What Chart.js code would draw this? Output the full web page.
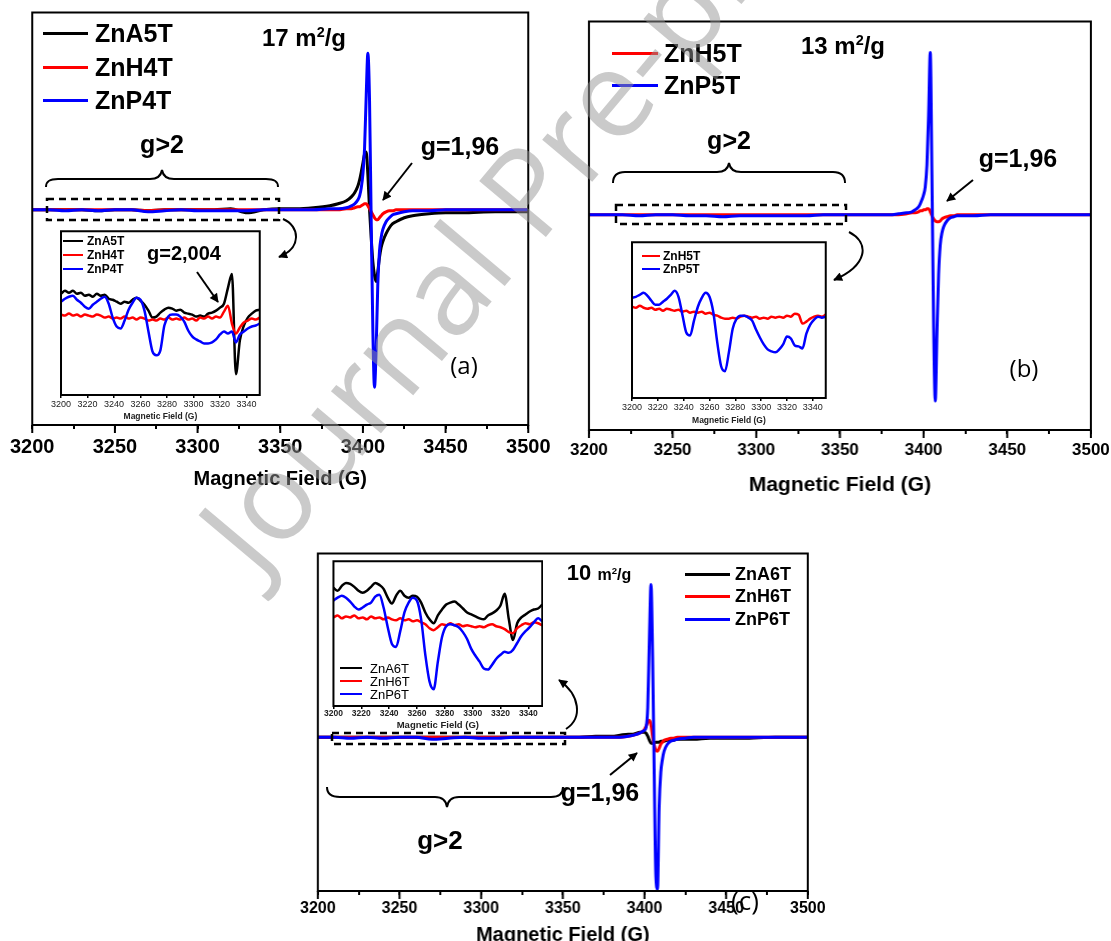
<!DOCTYPE html>
<html>
<head>
<meta charset="utf-8">
<script src="https://cdn.jsdelivr.net/npm/chart.js@4.4.1/dist/chart.umd.min.js"></script>
<style>
  html, body { margin: 0; padding: 0; background: #fff; }
  body { position: relative; width: 1111px; height: 941px; overflow: hidden; font-family: "Liberation Sans", Arial, sans-serif; color: #000; }
  .wrap { position: absolute; z-index: 1; }
  .wrap.inset { z-index: 2; }
  .t { position: absolute; white-space: nowrap; line-height: 1; transform: translate(-50%, -50%); font-weight: bold; z-index: 5; }
  .t.left { transform: translate(0, -50%); }
  .t.reg { font-weight: normal; font-family: "Open Sans", "Liberation Sans", sans-serif; }
  .t sup { font-size: 0.6em; vertical-align: baseline; position: relative; top: -0.6em; }
  .ln { position: absolute; height: 3px; margin-top: -1.5px; z-index: 5; }
  .ln.thin { height: 2.5px; margin-top: -1.25px; }
  svg.over { position: absolute; left: 0; top: 0; z-index: 4; pointer-events: none; }
  svg.wm { z-index: 6; }
</style>
</head>
<body>

<div class="wrap" id="chartA-wrap"><canvas id="chartA"></canvas></div>
<div class="wrap" id="chartB-wrap"><canvas id="chartB"></canvas></div>
<div class="wrap" id="chartC-wrap"><canvas id="chartC"></canvas></div>
<div class="wrap inset" id="insetA-wrap"><canvas id="insetA"></canvas></div>
<div class="wrap inset" id="insetB-wrap"><canvas id="insetB"></canvas></div>
<div class="wrap inset" id="insetC-wrap"><canvas id="insetC"></canvas></div>

<!-- braces, dashed boxes, arrows -->
<svg class="over" width="1111" height="941">
  <defs>
    <marker id="ah" viewBox="0 0 10 10" refX="9" refY="5" markerWidth="11" markerHeight="9" orient="auto" markerUnits="userSpaceOnUse">
      <path d="M0,0 L10,5 L0,10 z" fill="#000"/>
    </marker>
  </defs>
  <g fill="none" stroke="#000" stroke-width="2">
    <path d="M46,187 C46,181 50,179 58,179 L150,179 C157,179 161,176 162,170 C163,176 167,179 174,179 L266,179 C274,179 278,181 278,187"/>
    <path d="M613,183 C613,175 617,172 625,172 L717,172 C724,172 728,169 729,163 C730,169 734,172 741,172 L833,172 C841,172 845,175 845,183"/>
    <path d="M327,787 C327,794 331,797 340,797 L435,797 C442,797 446,800 447,807 C448,800 452,797 459,797 L551,797 C559,797 563,794 563,787"/>
    <g stroke-dasharray="7 5" stroke-width="2.5">
      <rect x="47" y="199" width="232" height="21"/>
      <rect x="616" y="205" width="230" height="19"/>
      <rect x="332" y="733" width="233" height="11"/>
    </g>
    <path d="M283,219 C300,226 302,248 279,257" marker-end="url(#ah)"/>
    <path d="M849,232 C870,243 868,265 834,280" marker-end="url(#ah)"/>
    <path d="M566,729 C583,718 580,695 559,680" marker-end="url(#ah)"/>
    <path d="M412,163 L383,200" marker-end="url(#ah)"/>
    <path d="M973,180 L947,201" marker-end="url(#ah)"/>
    <path d="M610,775 L637,753" marker-end="url(#ah)"/>
    <path d="M197,272 L218,302" marker-end="url(#ah)"/>
  </g>
</svg>

<!-- panel (a) labels -->
<div class="ln" style="left:43px;top:33px;width:45px;background:#000"></div>
<div class="ln" style="left:43px;top:67px;width:45px;background:#f00"></div>
<div class="ln" style="left:43px;top:100px;width:45px;background:#00f"></div>
<div class="t left" style="left:95px;top:33px;font-size:25px">ZnA5T</div>
<div class="t left" style="left:95px;top:67px;font-size:25px">ZnH4T</div>
<div class="t left" style="left:95px;top:100px;font-size:25px">ZnP4T</div>
<div class="t" style="left:304px;top:38px;font-size:24px">17 m<sup>2</sup>/g</div>
<div class="t" style="left:162px;top:144px;font-size:25px">g&gt;2</div>
<div class="t" style="left:460px;top:146px;font-size:25px">g=1,96</div>
<div class="t reg" style="left:464px;top:365px;font-size:24px">(a)</div>
<div class="t" style="left:184px;top:253px;font-size:20px">g=2,004</div>
<div class="ln thin" style="left:63px;top:241px;width:20px;background:#000"></div>
<div class="ln thin" style="left:63px;top:255px;width:20px;background:#f00"></div>
<div class="ln thin" style="left:63px;top:269px;width:20px;background:#00f"></div>
<div class="t left" style="left:87px;top:241px;font-size:12px">ZnA5T</div>
<div class="t left" style="left:87px;top:255px;font-size:12px">ZnH4T</div>
<div class="t left" style="left:87px;top:269px;font-size:12px">ZnP4T</div>

<!-- panel (b) labels -->
<div class="ln" style="left:612px;top:53px;width:46px;background:#f00"></div>
<div class="ln" style="left:612px;top:85px;width:46px;background:#00f"></div>
<div class="t left" style="left:664px;top:53px;font-size:25px">ZnH5T</div>
<div class="t left" style="left:664px;top:85px;font-size:25px">ZnP5T</div>
<div class="t" style="left:843px;top:46px;font-size:24px">13 m<sup>2</sup>/g</div>
<div class="t" style="left:729px;top:140px;font-size:25px">g&gt;2</div>
<div class="t" style="left:1018px;top:158px;font-size:25px">g=1,96</div>
<div class="t reg" style="left:1024px;top:368px;font-size:24px">(b)</div>
<div class="ln thin" style="left:642px;top:256px;width:18px;background:#f00"></div>
<div class="ln thin" style="left:642px;top:269px;width:18px;background:#00f"></div>
<div class="t left" style="left:663px;top:256px;font-size:12px">ZnH5T</div>
<div class="t left" style="left:663px;top:269px;font-size:12px">ZnP5T</div>

<!-- panel (c) labels -->
<div class="ln" style="left:685px;top:574px;width:45px;background:#000"></div>
<div class="ln" style="left:685px;top:596px;width:45px;background:#f00"></div>
<div class="ln" style="left:685px;top:619px;width:45px;background:#00f"></div>
<div class="t left" style="left:735px;top:574px;font-size:18px">ZnA6T</div>
<div class="t left" style="left:735px;top:596px;font-size:18px">ZnH6T</div>
<div class="t left" style="left:735px;top:619px;font-size:18px">ZnP6T</div>
<div class="t" style="left:599px;top:573px"><span style="font-size:22px">10 </span><span style="font-size:16px">m<sup>2</sup>/g</span></div>
<div class="t" style="left:600px;top:792px;font-size:25px">g=1,96</div>
<div class="t" style="left:440px;top:840px;font-size:26px">g&gt;2</div>
<div class="t reg" style="left:745px;top:900px;font-size:26px">(c)</div>
<div class="ln thin" style="left:340px;top:668px;width:22px;background:#000"></div>
<div class="ln thin" style="left:340px;top:681px;width:22px;background:#f00"></div>
<div class="ln thin" style="left:340px;top:694px;width:22px;background:#00f"></div>
<div class="t left" style="left:370px;top:668px;font-size:13px;font-weight:normal">ZnA6T</div>
<div class="t left" style="left:370px;top:681px;font-size:13px;font-weight:normal">ZnH6T</div>
<div class="t left" style="left:370px;top:694px;font-size:13px;font-weight:normal">ZnP6T</div>

<!-- watermark -->
<svg class="over wm" width="1111" height="941">
  <text x="258" y="580" transform="rotate(-50 258 580)" font-family="Open Sans, Liberation Sans, sans-serif" font-size="122" fill="rgba(150,150,150,0.5)">Journal Pre-proof</text>
</svg>

<script>
// Main spectra: magnetic field (G), denser around the g=1,96 line
const fieldMain = [3200, 3210, 3220, 3230, 3240, 3250, 3260, 3270, 3280, 3290,
  3300, 3310, 3320, 3330, 3340, 3350, 3360, 3370, 3380, 3385,
  3390, 3393, 3395, 3397, 3398, 3399, 3400, 3401, 3402, 3403,
  3404, 3405, 3406, 3407, 3408, 3409, 3410, 3411, 3412, 3414,
  3416, 3418, 3420, 3425, 3430, 3440, 3450, 3460, 3480, 3500];
const mainTickLabels = [3200, 3250, 3300, 3350, 3400, 3450, 3500];

// Panel (a), 17 m2/g
const zna5t = [0, 0, 0, 0, -1, 0, 0, -1, 0, 0,
  0, 0, 1, -3, 0, 1, 1, 2, 4, 6,
  9, 13, 17, 24, 30, 38, 47, 56, 58, 35,
  0, -28, -52, -66, -72, -62, -48, -38, -32, -24,
  -18, -14, -12, -8, -6, -4, -3, -3, -2, -2];
const znh4t = [0, 0, 0, 0, 0, 0, 0, -1, 0, 0,
  0, 0, 0, 0, 0, 0, 0, 0, 0, 0,
  1, 1, 2, 3, 3, 4, 5, 6, 6, 4,
  1, -2, -5, -8, -10, -10, -8, -6, -4, -2,
  -1, -1, 0, 0, 0, 0, 0, 0, 0, 0];
const znp4t = [0, 0, -1, 0, -1, 0, 0, -2, -1, 0,
  -1, -1, -1, -1, 0, 0, 0, 0, 1, 1,
  2, 4, 6, 10, 14, 22, 36, 62, 115, 157,
  110, -10, -120, -178, -140, -75, -42, -28, -20, -12,
  -8, -5, -4, -2, -1, -1, 0, 0, 0, 0];

// Panel (b), 13 m2/g
const znh5t = [0, 0, 0, 0, 0, 0, 0, 0, 0, 0,
  0, 0, 0, 0, 0, 0, 0, 0, 0, 0,
  1, 2, 2, 3, 4, 4, 5, 5, 6, 6,
  3, -1, -4, -6, -7, -7, -6, -4, -3, -2,
  -1, -1, 0, 0, 0, 0, 0, 0, 0, 0];
const znp5t = [0, 0, 0, -1, 0, 0, -1, -1, -2, -1,
  -1, -1, -1, -1, 0, 0, 0, 0, 0, 1,
  2, 3, 5, 8, 11, 15, 20, 28, 50, 100,
  163, 40, -110, -187, -120, -60, -30, -18, -12, -6,
  -3, -2, -1, -1, -1, 0, 0, 0, 0, 0];

// Panel (c), 10 m2/g
const zna6t = [0, 0, 0, 0, 0, 0, 0, 0, 0, 0,
  0, 0, 0, 0, 0, 0, 0, 1, 1, 2,
  3, 3, 4, 5, 5, 5, 5, 4, 1, -3,
  -6, -6, -6, -5, -5, -5, -4, -4, -4, -3,
  -3, -3, -2, -2, -2, -1, -1, -1, 0, 0];
const znh6t = [0, 0, 0, 0, 0, 0, 0, 0, 0, 0,
  0, 0, 0, 0, 0, 0, 0, 0, 0, 0,
  1, 2, 3, 4, 5, 6, 8, 11, 15, 17,
  12, 0, -8, -13, -14, -11, -7, -5, -3, -2,
  -1, -1, 0, 0, 0, 0, 0, 0, 0, 0];
const znp6t = [0, 0, -1, 0, -1, 0, 0, -2, -1, 0,
  -1, -1, 0, 0, 0, 0, 0, 0, 0, 0,
  1, 2, 3, 4, 5, 6, 7, 10, 30, 98,
  153, 80, -40, -140, -152, -70, -35, -22, -14, -7,
  -4, -3, -2, -1, 0, 0, 0, 0, 0, 0];

// Insets: the g>2 region, 3200-3350 G
const fieldInset = [3200, 3203, 3206, 3209, 3212, 3215, 3218, 3221, 3224, 3227,
  3230, 3233, 3236, 3239, 3242, 3245, 3248, 3251, 3254, 3257,
  3260, 3263, 3266, 3269, 3272, 3275, 3278, 3281, 3284, 3287,
  3290, 3293, 3296, 3299, 3302, 3305, 3308, 3311, 3314, 3317,
  3320, 3323, 3326, 3329, 3332, 3335, 3338, 3341, 3344, 3347, 3350];
const insetTickLabels = [3200, 3220, 3240, 3260, 3280, 3300, 3320, 3340];

const insetA_zna5t = [102, 105, 103, 105, 102, 103, 100, 101, 99, 102,
  100, 101, 97, 96, 94, 92, 94, 93, 96, 98,
  95, 91, 85, 78, 79, 83, 86, 88, 87, 85,
  86, 83, 82, 81, 79, 80, 79, 82, 83, 85,
  88, 92, 108, 122, 21, 55, 70, 78, 82, 85, 86];
const insetA_znh4t = [81, 80, 82, 80, 81, 79, 81, 80, 79, 81,
  80, 78, 79, 77, 78, 77, 79, 77, 78, 76,
  78, 77, 75, 76, 75, 77, 76, 78, 76, 77,
  76, 78, 76, 77, 75, 78, 77, 79, 77, 79,
  78, 84, 90, 72, 62, 68, 73, 75, 77, 76, 78];
const insetA_znp4t = [94, 97, 99, 100, 96, 93, 89, 87, 91, 94,
  97, 99, 92, 78, 69, 67, 75, 86, 93, 98,
  96, 85, 64, 44, 40, 45, 70, 79, 81, 81,
  79, 74, 65, 59, 56, 54, 52, 52, 53, 56,
  61, 64, 62, 64, 53, 61, 64, 67, 69, 70, 72];

const insetB_znh5t = [92, 91, 93, 91, 90, 91, 89, 90, 88, 90,
  89, 88, 89, 87, 88, 86, 87, 86, 87, 85,
  86, 84, 83, 81, 80, 80, 81, 80, 82, 83,
  82, 81, 82, 80, 81, 80, 82, 81, 82, 81,
  83, 82, 85, 84, 75, 77, 80, 82, 83, 82, 84];
const insetB_znp5t = [101, 102, 104, 106, 103, 98, 94, 94, 97, 100,
  104, 108, 102, 84, 66, 63, 78, 92, 101, 106,
  102, 86, 56, 32, 27, 46, 70, 80, 83, 83,
  81, 78, 69, 61, 54, 49, 47, 46, 49, 54,
  62, 60, 53, 52, 50, 65, 74, 79, 82, 81, 82];

const insetC_zna6t = [120, 117, 122, 125, 124, 121, 117, 115, 117, 121,
  125, 123, 119, 110, 104, 112, 117, 112, 110, 112,
  111, 105, 95, 88, 84, 92, 98, 103, 105, 106,
  103, 99, 95, 93, 91, 89, 88, 92, 94, 97,
  102, 114, 88, 67, 84, 90, 93, 96, 98, 99, 103];
const insetC_znh6t = [90, 92, 89, 91, 90, 92, 89, 90, 88, 91,
  89, 90, 88, 90, 88, 87, 89, 87, 88, 86,
  87, 85, 83, 79, 77, 80, 83, 82, 84, 82,
  83, 81, 82, 81, 80, 81, 80, 82, 83, 81,
  80, 78, 75, 74, 79, 82, 84, 83, 85, 84, 82];
const insetC_znp6t = [107, 110, 112, 110, 106, 101, 98, 100, 103, 105,
  111, 113, 100, 80, 63, 60, 76, 95, 105, 110,
  107, 88, 52, 25, 17, 45, 70, 81, 83, 82,
  80, 75, 68, 58, 51, 45, 38, 37, 42, 48,
  52, 55, 54, 57, 64, 71, 76, 80, 85, 89, 86];

const FONT = "'Liberation Sans', Arial, sans-serif";
const BLACK = '#000000', RED = '#ff0000', BLUE = '#0000ff';

// Frame box round the plot area, white plot background, longer major ticks
const framePlugin = {
  id: 'frame',
  beforeDraw(chart, args, opts) {
    if (!opts.fill) return;
    const { ctx, chartArea: a } = chart;
    ctx.save();
    ctx.fillStyle = opts.fill;
    ctx.fillRect(a.left, a.top, a.right - a.left, a.bottom - a.top);
    ctx.restore();
  },
  afterDraw(chart, args, opts) {
    const { ctx, chartArea: a } = chart;
    ctx.save();
    ctx.strokeStyle = '#000';
    ctx.lineWidth = opts.width;
    ctx.strokeRect(a.left, a.top, a.right - a.left, a.bottom - a.top);
    if (opts.major) {
      const sx = chart.scales.x;
      sx.ticks.forEach(t => {
        if (t.value % opts.major !== 0) return;
        const px = sx.getPixelForValue(t.value);
        ctx.beginPath();
        ctx.moveTo(px, a.bottom);
        ctx.lineTo(px, a.bottom + opts.majorLen);
        ctx.stroke();
      });
    }
    ctx.restore();
  }
};

function buildDatasets(fields, series, width) {
  return series.map(s => ({
    label: s.label,
    data: fields.map((x, i) => ({ x: x, y: s.values[i] })),
    borderColor: s.color,
    borderWidth: width,
    pointRadius: 0,
    cubicInterpolationMode: 'monotone',
    fill: false,
    order: s.order
  }));
}

function mainConfig(series, yMin, yMax, tickSize, tickPad, titleSize, titlePad) {
  return {
    type: 'line',
    data: { datasets: buildDatasets(fieldMain, series, 3) },
    options: {
      responsive: true,
      maintainAspectRatio: false,
      animation: false,
      layout: { padding: 0 },
      plugins: {
        legend: { display: false },
        tooltip: { enabled: false },
        frame: { width: 2, major: 50, majorLen: 8 }
      },
      scales: {
        x: {
          type: 'linear', min: 3200, max: 3500,
          border: { display: false },
          grid: { drawOnChartArea: false, color: '#000', lineWidth: 2, tickLength: 4 },
          ticks: {
            stepSize: 25, autoSkip: false, maxRotation: 0, padding: tickPad, color: '#000',
            font: { family: FONT, size: tickSize, weight: 'bold' },
            callback: v => mainTickLabels.includes(v) ? String(v) : ''
          },
          title: {
            display: true, text: 'Magnetic Field (G)', color: '#000',
            font: { family: FONT, size: titleSize, weight: 'bold' },
            padding: { top: titlePad, bottom: 0 }
          }
        },
        y: { display: false, min: yMin, max: yMax }
      }
    },
    plugins: [framePlugin]
  };
}

function insetConfig(series, yMin, yMax, tickFont, tickPad, titleFont, titlePad) {
  return {
    type: 'line',
    data: { datasets: buildDatasets(fieldInset, series, 2.5) },
    options: {
      responsive: true,
      maintainAspectRatio: false,
      animation: false,
      layout: { padding: 0 },
      plugins: {
        legend: { display: false },
        tooltip: { enabled: false },
        frame: { width: 2, fill: '#ffffff' }
      },
      scales: {
        x: {
          type: 'linear', min: 3200, max: 3350,
          border: { display: false },
          grid: { drawOnChartArea: false, color: '#000', lineWidth: 1.5, tickLength: 3 },
          ticks: {
            stepSize: 20, includeBounds: false, autoSkip: false, maxRotation: 0,
            padding: tickPad, color: '#222', font: tickFont,
            callback: v => insetTickLabels.includes(v) ? String(v) : ''
          },
          title: {
            display: true, text: 'Magnetic Field (G)', color: '#222',
            font: titleFont, padding: { top: titlePad, bottom: 0 }
          }
        },
        y: { display: false, min: yMin, max: yMax }
      }
    },
    plugins: [framePlugin]
  };
}

// Put the chart so that its plot area sits exactly on box
function makeChart(id, box, cfg) {
  const wrap = document.getElementById(id + '-wrap');
  wrap.style.left = box.x + 'px';
  wrap.style.top = box.y + 'px';
  wrap.style.width = box.w + 'px';
  wrap.style.height = box.h + 'px';
  const chart = new Chart(document.getElementById(id), cfg);
  const a = chart.chartArea;
  wrap.style.width = (box.w + chart.width - (a.right - a.left)) + 'px';
  wrap.style.height = (box.h + chart.height - (a.bottom - a.top)) + 'px';
  chart.resize();
  const b = chart.chartArea;
  wrap.style.left = (box.x - b.left) + 'px';
  wrap.style.top = (box.y - b.top) + 'px';
  return chart;
}

makeChart('chartA', { x: 32, y: 12, w: 496, h: 414 }, mainConfig([
  { label: 'ZnA5T', values: zna5t, color: BLACK, order: 3 },
  { label: 'ZnH4T', values: znh4t, color: RED, order: 2 },
  { label: 'ZnP4T', values: znp4t, color: BLUE, order: 1 }
], -216, 198, 20, 6, 20, 2));

makeChart('chartB', { x: 589, y: 21, w: 501, h: 410 }, mainConfig([
  { label: 'ZnH5T', values: znh5t, color: RED, order: 2 },
  { label: 'ZnP5T', values: znp5t, color: BLUE, order: 1 }
], -216, 194, 17, 6, 21, 6));

makeChart('chartC', { x: 318, y: 553, w: 489, h: 339 }, mainConfig([
  { label: 'ZnA6T', values: zna6t, color: BLACK, order: 3 },
  { label: 'ZnH6T', values: znh6t, color: RED, order: 2 },
  { label: 'ZnP6T', values: znp6t, color: BLUE, order: 1 }
], -154, 184, 16, 4, 20, 1));

makeChart('insetA', { x: 61, y: 231, w: 200, h: 165 }, insetConfig([
  { label: 'ZnA5T', values: insetA_zna5t, color: BLACK, order: 3 },
  { label: 'ZnH4T', values: insetA_znh4t, color: RED, order: 2 },
  { label: 'ZnP4T', values: insetA_znp4t, color: BLUE, order: 1 }
], 0, 165, { family: FONT, size: 9 }, 1, { family: FONT, size: 8.5, weight: 'bold' }, 1));

makeChart('insetB', { x: 632, y: 242, w: 195, h: 157 }, insetConfig([
  { label: 'ZnH5T', values: insetB_znh5t, color: RED, order: 2 },
  { label: 'ZnP5T', values: insetB_znp5t, color: BLUE, order: 1 }
], 0, 157, { family: FONT, size: 9 }, 1, { family: FONT, size: 8.5, weight: 'bold' }, 2));

makeChart('insetC', { x: 333, y: 561, w: 210, h: 146 }, insetConfig([
  { label: 'ZnA6T', values: insetC_zna6t, color: BLACK, order: 3 },
  { label: 'ZnH6T', values: insetC_znh6t, color: RED, order: 2 },
  { label: 'ZnP6T', values: insetC_znp6t, color: BLUE, order: 1 }
], 0, 147, { family: FONT, size: 8.5, weight: 'bold' }, 0, { family: FONT, size: 9.5, weight: 'bold' }, 0));
</script>
</body>
</html>
